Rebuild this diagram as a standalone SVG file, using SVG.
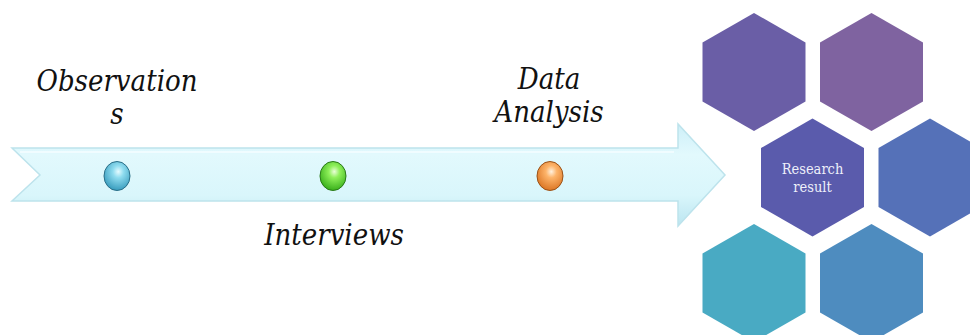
<svg xmlns="http://www.w3.org/2000/svg" width="970" height="335" viewBox="0 0 970 335">
<style>
.lbl{font-family:"DejaVu Serif Condensed","DejaVu Serif","Liberation Serif",serif;font-stretch:condensed;font-style:italic;font-size:29px;fill:#111;text-anchor:middle}
.hx-t{font-family:"DejaVu Serif Condensed","DejaVu Serif","Liberation Serif",serif;font-stretch:condensed;font-size:14.5px;fill:#eef0fa;text-anchor:middle}
</style>
<defs>
<linearGradient id="arrowG" x1="0" y1="0" x2="0" y2="1">
<stop offset="0" stop-color="#cdeff8"/>
<stop offset="0.3" stop-color="#e2f9fd"/>
<stop offset="0.7" stop-color="#d9f6fb"/>
<stop offset="1" stop-color="#bbe5f0"/>
</linearGradient>
<radialGradient id="bBlue" cx="0.55" cy="0.35" r="0.7">
<stop offset="0" stop-color="#e6fbff"/>
<stop offset="0.3" stop-color="#8fdcef"/>
<stop offset="1" stop-color="#2f95b8"/>
</radialGradient>
<radialGradient id="bGreen" cx="0.55" cy="0.35" r="0.7">
<stop offset="0" stop-color="#eaffd8"/>
<stop offset="0.3" stop-color="#8ff05a"/>
<stop offset="1" stop-color="#2fa814"/>
</radialGradient>
<radialGradient id="bOrange" cx="0.55" cy="0.35" r="0.7">
<stop offset="0" stop-color="#fff1de"/>
<stop offset="0.3" stop-color="#fdb46a"/>
<stop offset="1" stop-color="#d86f1c"/>
</radialGradient>
<polygon id="hex" points="0,-59 51.5,-29.5 51.5,29.5 0,59 -51.5,29.5 -51.5,-29.5"/>
</defs>
<g id="timeline-arrow">
<polygon points="12,148 678,148 678,124 725,175 678,226 678,201 12,201 40,175" fill="url(#arrowG)" stroke="#bde3ec" stroke-width="1.5"/>
<polyline points="20,152 674,152" fill="none" stroke="#f4fdff" stroke-width="2" opacity="0.8"/>
</g>
<g id="observations">
<ellipse cx="117" cy="176" rx="13" ry="14.5" fill="url(#bBlue)" stroke="#2a6f88" stroke-width="1"/>
<text class="lbl" x="117" y="91">Observation</text>
<text class="lbl" x="117" y="124">s</text>
</g>
<g id="interviews">
<ellipse cx="333" cy="176" rx="13" ry="14.5" fill="url(#bGreen)" stroke="#2a7a18" stroke-width="1"/>
<text class="lbl" x="334" y="245">Interviews</text>
</g>
<g id="data-analysis">
<ellipse cx="550" cy="176" rx="13" ry="14.5" fill="url(#bOrange)" stroke="#9a5218" stroke-width="1"/>
<text class="lbl" x="549" y="89">Data</text>
<text class="lbl" x="549" y="122">Analysis</text>
</g>
<g id="hex-top-left"><use href="#hex" x="754" y="72" fill="#6a5ea6"/></g>
<g id="hex-top-right"><use href="#hex" x="871.5" y="72" fill="#7f63a0"/></g>
<g id="research-result">
<use href="#hex" x="812.5" y="177.5" fill="#5a5bac"/>
<text class="hx-t" x="812.5" y="174">Research</text>
<text class="hx-t" x="812.5" y="192">result</text>
</g>
<g id="hex-mid-right"><use href="#hex" x="930" y="177.5" fill="#5571b8"/></g>
<g id="hex-bottom-left"><use href="#hex" x="754" y="283" fill="#49aac3"/></g>
<g id="hex-bottom-right"><use href="#hex" x="871.5" y="283" fill="#4e8cbf"/></g>
</svg>
